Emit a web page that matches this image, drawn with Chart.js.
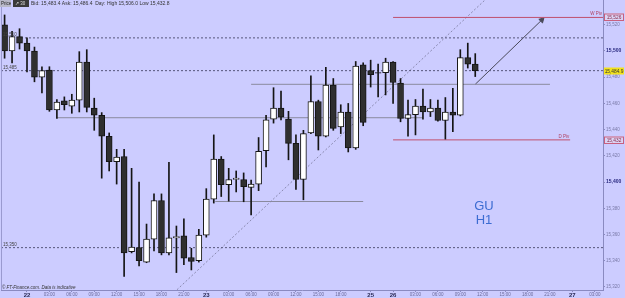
<!DOCTYPE html>
<html>
<head>
<meta charset="utf-8">
<script src="https://cdn.jsdelivr.net/npm/chart.js@4.4.1/dist/chart.umd.min.js"></script>
<style>
  html, body { margin: 0; padding: 0; background: #ccccff; }
  #wrap { width: 625px; height: 298px; }
</style>
</head>
<body>
<div id="wrap"><canvas id="chart" width="625" height="298"></canvas></div>
<script>
// hourly candles, index 0 = 21st 21:00
const opens  = [15520,15500,15511,15506,15500,15480,15485.5,15455,15462,15458,15462.5,15491.5,15456.5,15451,15435,15415.5,15419.5,15347,15350,15339,15356.5,15386,15346,15357.5,15359,15342.5,15340,15359.5,15387,15417.5,15398,15402,15402,15396,15398.5,15424,15448,15456.5,15448,15429.5,15402,15437.5,15461.5,15435,15474,15442,15453.5,15426,15489.5,15485,15483.5,15483.5,15491.5,15475.5,15448.5,15451.5,15458,15453.5,15456.5,15447,15453.5,15451,15495,15490];
const highs  = [15527.5,15515,15517,15510,15503,15488,15488,15463,15465,15467,15499.5,15501,15464,15453,15437.5,15425,15425,15410.5,15400,15368,15391,15391,15415,15366.5,15372,15349.5,15364,15395,15436,15419.5,15410.5,15408.5,15407,15401.5,15434,15451,15472,15469.5,15454,15436,15439.5,15481,15462.5,15487.5,15479,15459,15460,15492,15491,15493,15490,15494.5,15492,15479,15462.5,15463,15471,15463,15462.5,15464.5,15471.5,15501,15506,15498];
const lows   = [15494.5,15491,15501.5,15484,15476.5,15468,15454,15448.5,15455,15452.5,15453.5,15453.5,15439.5,15403,15408.5,15398.5,15328,15346,15336,15338.5,15347.5,15344.5,15344.5,15331,15337,15333,15339,15358,15384,15389,15385.5,15392.5,15385,15375,15393.5,15411.5,15445,15447.5,15417,15394.5,15386.5,15437,15424.5,15434.5,15439.5,15437,15423,15425,15443,15472.5,15465,15466.5,15460,15446,15435,15436,15448,15450,15446.5,15432.8,15438.5,15450.5,15487,15480.5];
const closes = [15500,15511,15506,15500,15480,15485,15455,15461,15459,15462.5,15491.5,15457,15451,15435,15415.5,15419,15346,15350.5,15340,15356.5,15386,15346,15357.5,15358.5,15342,15339.5,15359.5,15387,15417.5,15398,15402,15403,15396.5,15398.5,15423.5,15447.5,15456.5,15449.5,15429.5,15402,15437,15461.5,15435,15474,15441,15453.5,15426,15488.5,15445.5,15482,15483,15491.5,15476,15448.5,15451.5,15458,15453.5,15456.5,15447,15453.5,15451,15495,15490,15485];

// x axis labels (candle index -> text)
const tickIndex = [3,6,9,12,15,18,21,24,27,30,33,36,39,42,45,49,52,55,58,61,64,67,70,73,76,79];
const tickText  = ['22','03:00','06:00','09:00','12:00','15:00','18:00','21:00','23','03:00','06:00','09:00','12:00','15:00','18:00','25','26','03:00','06:00','09:00','12:00','15:00','18:00','21:00','27','03:00'];
const yTicks = [15320,15340,15360,15380,15400,15420,15440,15460,15480,15500,15520];

// drawn levels
const dottedLevels = [15510, 15485, 15350];
const grayLevels   = [15474.6, 15449.1, 15385.2];
const grayFrom     = [33, 7, 28.2];
const grayTo       = [73, 56, 48];
const pivotLevels  = [15525.6, 15432.2];
const pivotNames   = ['W Piv', 'D Piv'];
const pivotFrom    = [52, 52];
const pivotTo      = [80.1, 75.7];
const trendLine    = [[21.9, 15311.6], [64.3, 15538.9]];
const arrowLine    = [[63, 15474.6], [71.9, 15523.6]];
const currentPrice = 15484.9;

const headerText = 'Bid: 15,483.4 Ask: 15,486.4  Day: High 15,506.0 Low 15,432.8';
const fmt = v => v.toLocaleString('en-US');
const X_MIN = -0.48, X_MAX = 80.1;
const FONT = 'Liberation Sans, Arial, sans-serif';

const isTime = c => c && c.index !== undefined && /:/.test(tickText[c.index] || '');
const isRound = c => c && c.tick && c.tick.value % 100 === 0;
const noPad = s => { s.paddingTop = 0; s.paddingBottom = 0; s.paddingLeft = 0; s.paddingRight = 0; };

const lineSet = (pts, color, dash, order) => ({
  type: 'line',
  data: pts.map(p => ({ x: p[0], y: p[1] })),
  borderColor: color,
  borderWidth: 1,
  borderDash: dash,
  pointRadius: 0,
  pointHitRadius: 0,
  order: order
});

const datasets = [];
dottedLevels.forEach(v => datasets.push(lineSet([[X_MIN, v], [X_MAX, v]], '#55557a', [2, 2], 3)));
grayLevels.forEach((v, i) => datasets.push(lineSet([[grayFrom[i], v], [grayTo[i], v]], '#8a8a9e', [], 3)));
pivotLevels.forEach((v, i) => datasets.push(lineSet([[pivotFrom[i], v], [pivotTo[i], v]], '#c0506e', [], 3)));
datasets.push(lineSet(trendLine, '#8a8ab0', [2, 2], 3));
datasets.push({
  type: 'line',
  data: arrowLine.map(p => ({ x: p[0], y: p[1] })),
  borderColor: '#4a4a5a',
  backgroundColor: '#4a4a5a',
  borderWidth: 1,
  pointRadius: [0, 3],
  pointHitRadius: 0,
  pointStyle: 'triangle',
  rotation: [0, 45],
  order: 3
});
// wicks
datasets.push({
  type: 'bar',
  data: lows.map((l, i) => ({ x: i, y: [l, highs[i]] })),
  backgroundColor: '#151515',
  barThickness: 1,
  grouped: false,
  order: 1
});
// bodies
datasets.push({
  type: 'bar',
  data: opens.map((o, i) => ({ x: i, y: [o, closes[i]] })),
  backgroundColor: opens.map((o, i) => o > closes[i] ? '#2f2f2f' : '#ffffff'),
  borderColor: '#151515',
  borderWidth: 1,
  borderSkipped: false,
  barThickness: 6,
  grouped: false,
  order: 0
});

const overlay = {
  id: 'overlay',
  beforeDraw(chart) {
    const { ctx } = chart;
    ctx.save();
    ctx.fillStyle = '#ccccff';
    ctx.fillRect(0, 0, chart.width, chart.height);
    ctx.restore();
  },
  afterDraw(chart) {
    const { ctx, chartArea, scales: { x, y } } = chart;
    ctx.save();
    // left border
    ctx.strokeStyle = '#9a9ad0';
    ctx.beginPath(); ctx.moveTo(1.5, 0); ctx.lineTo(1.5, chartArea.bottom); ctx.stroke();

    // header
    ctx.fillStyle = '#b8b8c8';
    ctx.fillRect(0, 0, 11, 7);
    ctx.fillStyle = '#3a3a3a';
    ctx.fillRect(13, 0, 16, 7);
    ctx.fillStyle = '#222';
    ctx.font = '4.5px ' + FONT;
    ctx.textBaseline = 'middle';
    ctx.fillText('Price', 1, 3.8);
    ctx.fillStyle = '#ddd';
    ctx.fillText('\u2197 30', 15, 3.8);
    ctx.fillStyle = '#333';
    ctx.font = '5px ' + FONT;
    ctx.fillText(headerText, 31, 4);

    // labels on dotted levels
    ctx.font = '4.5px ' + FONT;
    ctx.fillStyle = '#444';
    ctx.textBaseline = 'bottom';
    dottedLevels.forEach(v => ctx.fillText(fmt(v), 3, y.getPixelForValue(v) - 0.5));

    // pivot names
    ctx.fillStyle = '#b04060';
    ctx.textAlign = 'right';
    pivotLevels.forEach((v, i) => ctx.fillText(pivotNames[i], x.getPixelForValue(pivotTo[i]) - 1, y.getPixelForValue(v) - 1));

    // boxed labels on the price axis
    ctx.textAlign = 'center';
    ctx.textBaseline = 'middle';
    ctx.font = '4.8px ' + FONT;
    const bx = chartArea.right + 1;
    const box = (v, text, fill, stroke, color) => {
      const py = Math.round(y.getPixelForValue(v));
      ctx.fillStyle = fill;
      ctx.fillRect(bx, py - 3.5, 20, 7);
      if (stroke) { ctx.strokeStyle = stroke; ctx.strokeRect(bx + 0.5, py - 3, 19, 6.5); }
      ctx.fillStyle = color;
      ctx.fillText(text, bx + 10, py + 0.3);
    };
    pivotLevels.forEach(v => box(v, fmt(Math.round(v)), '#dcd4f4', '#c86080', '#8a2a48'));
    box(currentPrice, fmt(currentPrice), '#f2e21c', null, '#333');

    // copyright
    ctx.textAlign = 'left';
    ctx.textBaseline = 'alphabetic';
    ctx.font = 'italic 4.5px ' + FONT;
    ctx.fillStyle = '#333';
    ctx.fillText('\u00a9 FT-Finance.com. Data is indicative', 2, 289);

    // symbol / timeframe
    ctx.font = '13px ' + FONT;
    ctx.fillStyle = '#3c6cd2';
    ctx.textAlign = 'center';
    ctx.fillText('GU', 484, 210);
    ctx.fillText('H1', 484, 224);
    ctx.restore();
  }
};

new Chart(document.getElementById('chart').getContext('2d'), {
  type: 'bar',
  data: { datasets },
  options: {
    responsive: false,
    animation: false,
    events: [],
    layout: { autoPadding: false, padding: { left: 1, top: 0, right: 0, bottom: 0 } },
    plugins: { legend: { display: false }, tooltip: { enabled: false } },
    scales: {
      x: {
        type: 'linear',
        offset: false,
        min: X_MIN,
        max: X_MAX,
        afterBuildTicks: s => { s.ticks = tickIndex.map(v => ({ value: v })); },
        afterFit: s => { s.height = 8; noPad(s); },
        border: { color: '#8a8ac0' },
        grid: { offset: false, drawOnChartArea: false, tickLength: 2, color: '#8a8ac0' },
        ticks: {
          autoSkip: false,
          maxRotation: 0,
          padding: 0,
          callback: (v, i) => tickText[i],
          color: c => isTime(c) ? '#6a6a9a' : '#2a2a55',
          font: c => isTime(c)
            ? { size: 4.5, family: FONT }
            : { size: 6, family: FONT, weight: 'bold' }
        }
      },
      y: {
        type: 'linear',
        position: 'right',
        min: 15317.7,
        max: 15538.9,
        afterBuildTicks: s => { s.ticks = yTicks.map(v => ({ value: v })); },
        afterFit: s => { s.width = 22; noPad(s); },
        border: { color: '#8a8ac0' },
        grid: { drawOnChartArea: false, tickLength: 2, color: '#8a8ac0' },
        ticks: {
          padding: 1,
          callback: v => fmt(v),
          color: c => isRound(c) ? '#2a2a80' : '#7a7aa8',
          font: c => isRound(c)
            ? { size: 5, family: FONT, weight: 'bold' }
            : { size: 4.5, family: FONT }
        }
      }
    }
  },
  plugins: [overlay]
});
</script>
</body>
</html>
